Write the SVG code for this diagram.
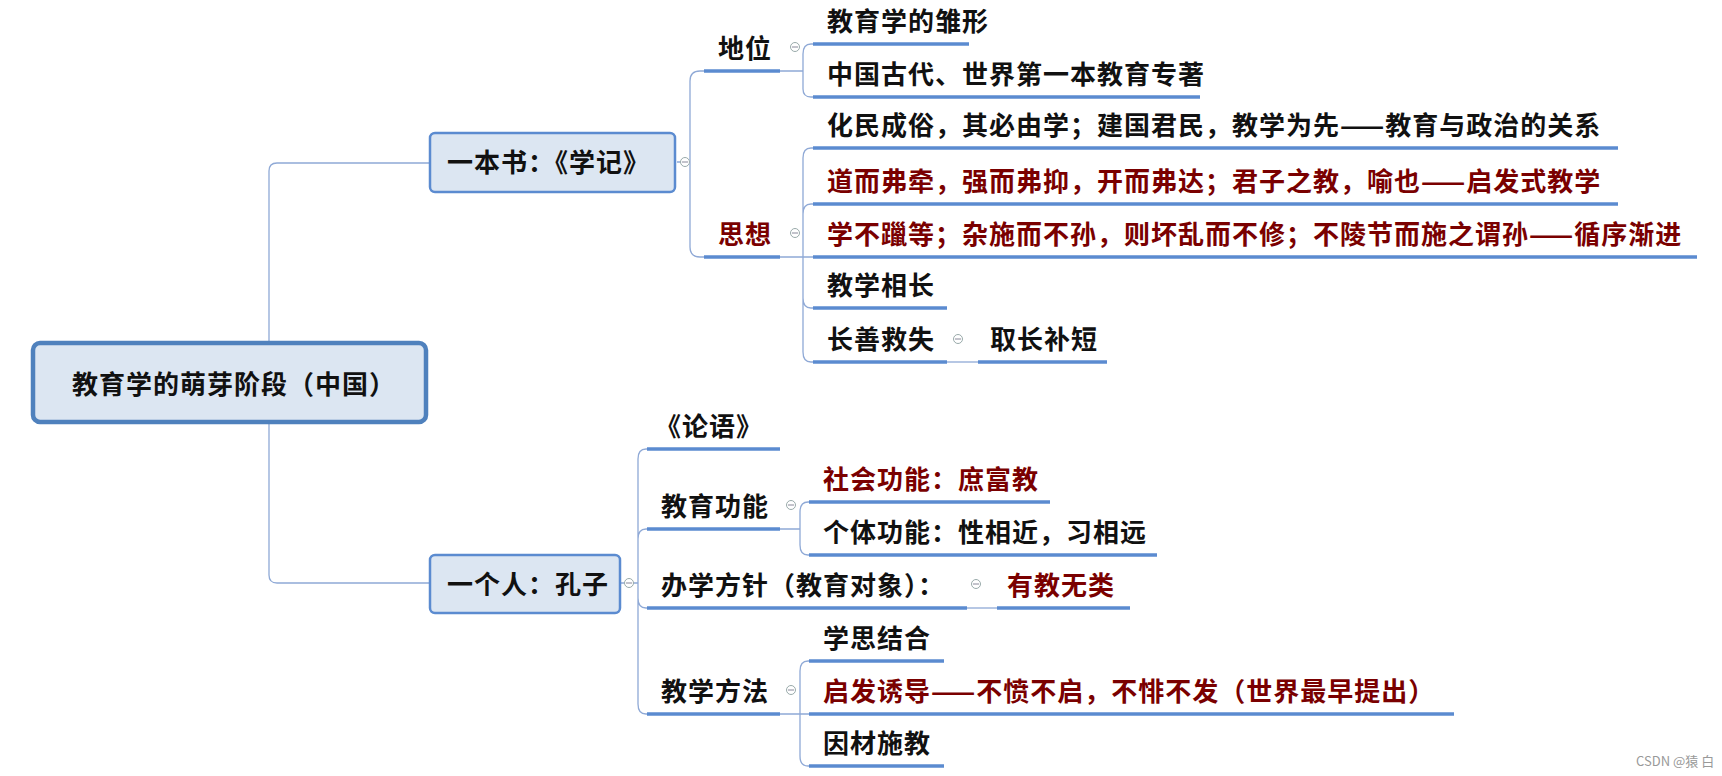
<svg xmlns="http://www.w3.org/2000/svg" width="1722" height="776" viewBox="0 0 1722 776">
<style>
.t{font-family:"Noto Sans CJK SC","Noto Sans",sans-serif;font-weight:bold;font-size:26px;fill:#111;letter-spacing:1px}
.r{fill:#7a0000}
.u{stroke:#5b8bd0;stroke-width:3.5;fill:none}
.c{stroke:#8fa9d6;stroke-width:1.3;fill:none}
.k{fill:#fff;stroke:#9aa;stroke-width:1}
.km{stroke:#889;stroke-width:1}
</style>
<rect width="1722" height="776" fill="#fff"/>
<g id="connectors">
<path class="c" d="M269 343 V171 Q269 163 277 163 H430"/>
<path class="c" d="M269 422 V575 Q269 583 277 583 H430"/>
<path class="c" d="M677 162 H690 M690 162 V81 Q690 71 700 71 H704 M690 162 V247 Q690 257 700 257 H704"/>
<path class="c" d="M780 71 H803 M803 71 V54 Q803 44 811 44 H813 M803 71 V89 Q803 97 811 97 H813"/>
<path class="c" d="M780 257 H803 M803 257 V158 Q803 148 811 148 H813 M803 257 V214 Q803 204 811 204 H813 M803 257 H813 M803 257 V298 Q803 308 811 308 H813 M803 257 V352 Q803 362 811 362 H813"/>
<path class="c" d="M947 362 H978"/>
<path class="c" d="M620 583 H638 M638 583 V459 Q638 449 646 449 H647 M638 583 V539 Q638 529 646 529 H647 M638 583 V598 Q638 608 646 608 H647 M638 583 V704 Q638 714 646 714 H647"/>
<path class="c" d="M780 529 H800 M800 529 V512 Q800 502 808 502 H809 M800 529 V545 Q800 555 808 555 H809"/>
<path class="c" d="M967 608 H997"/>
<path class="c" d="M780 714 H800 M800 714 V671 Q800 661 808 661 H809 M800 714 H809 M800 714 V756 Q800 766 808 766 H809"/>
</g>
<g id="root">
<rect x="33" y="343" width="393" height="79" rx="7" fill="#dce6f2" stroke="#4f81bd" stroke-width="4.5"/>
<text class="t" x="72" y="394" fill="#1f2f4f">教育学的萌芽阶段（中国）</text>
</g>
<g id="n-xueji">
<rect x="430" y="133" width="245" height="59" rx="5" fill="#dce6f2" stroke="#5b8bd0" stroke-width="2.5"/>
<text class="t" x="447" y="172">一本书：《学记》</text>
<circle class="k" cx="685" cy="162" r="4.5"/><path class="km" d="M682 162 H688"/>
</g>
<g id="n-kongzi">
<rect x="430" y="555" width="190" height="58" rx="5" fill="#dce6f2" stroke="#5b8bd0" stroke-width="2.5"/>
<text class="t" x="447" y="594">一个人：孔子</text>
<circle class="k" cx="629" cy="583" r="4.5"/><path class="km" d="M626 583 H632"/>
</g>
<g id="n-diwei"><path class="u" d="M704 71 H780"/><text class="t" x="718" y="58">地位</text>
<circle class="k" cx="795" cy="47" r="4.5"/><path class="km" d="M792 47 H798"/></g>
<g id="n-sixiang"><path class="u" d="M704 257 H780"/><text class="t r" x="718" y="244">思想</text>
<circle class="k" cx="795" cy="233" r="4.5"/><path class="km" d="M792 233 H798"/></g>
<g id="n-c1"><path class="u" d="M813 44 H969"/><text class="t" x="827" y="31">教育学的雏形</text></g>
<g id="n-c2"><path class="u" d="M813 97 H1200"/><text class="t" x="827" y="84">中国古代、世界第一本教育专著</text></g>
<g id="n-c3"><path class="u" d="M813 148 H1618"/><text class="t" x="827" y="135">化民成俗，其必由学；建国君民，教学为先——教育与政治的关系</text></g>
<g id="n-c4"><path class="u" d="M813 204 H1618"/><text class="t r" x="827" y="191">道而弗牵，强而弗抑，开而弗达；君子之教，喻也——启发式教学</text></g>
<g id="n-c5"><path class="u" d="M813 257 H1697"/><text class="t r" x="827" y="244">学不躐等；杂施而不孙，则坏乱而不修；不陵节而施之谓孙——循序渐进</text></g>
<g id="n-c6"><path class="u" d="M813 308 H947"/><text class="t" x="827" y="295">教学相长</text></g>
<g id="n-c7"><path class="u" d="M813 362 H947"/><text class="t" x="827" y="349">长善救失</text>
<circle class="k" cx="958" cy="339" r="4.5"/><path class="km" d="M955 339 H961"/></g>
<g id="n-c8"><path class="u" d="M978 362 H1107"/><text class="t" x="990" y="349">取长补短</text></g>
<g id="n-lunyu"><path class="u" d="M647 449 H780"/><text class="t" x="655" y="436">《论语》</text></g>
<g id="n-gongneng"><path class="u" d="M647 529 H780"/><text class="t" x="661" y="516">教育功能</text>
<circle class="k" cx="791" cy="505" r="4.5"/><path class="km" d="M788 505 H794"/></g>
<g id="n-shehui"><path class="u" d="M809 502 H1050"/><text class="t r" x="823" y="489">社会功能：庶富教</text></g>
<g id="n-geti"><path class="u" d="M809 555 H1157"/><text class="t" x="823" y="542">个体功能：性相近，习相远</text></g>
<g id="n-fangzhen"><path class="u" d="M647 608 H967"/><text class="t" x="661" y="595">办学方针（教育对象）：</text>
<circle class="k" cx="976" cy="584" r="4.5"/><path class="km" d="M973 584 H979"/></g>
<g id="n-youjiao"><path class="u" d="M997 608 H1130"/><text class="t r" x="1007" y="595">有教无类</text></g>
<g id="n-fangfa"><path class="u" d="M647 714 H780"/><text class="t" x="661" y="701">教学方法</text>
<circle class="k" cx="791" cy="690" r="4.5"/><path class="km" d="M788 690 H794"/></g>
<g id="n-xuesi"><path class="u" d="M809 661 H944"/><text class="t" x="823" y="648">学思结合</text></g>
<g id="n-qifa"><path class="u" d="M809 714 H1454"/><text class="t r" x="823" y="701">启发诱导——不愤不启，不悱不发（世界最早提出）</text></g>
<g id="n-yincai"><path class="u" d="M809 766 H944"/><text class="t" x="823" y="753">因材施教</text></g>
<text x="1636" y="766" font-family="'Noto Sans CJK SC','Liberation Sans',sans-serif" font-size="13" fill="#999">CSDN @猿 白</text>
</svg>
